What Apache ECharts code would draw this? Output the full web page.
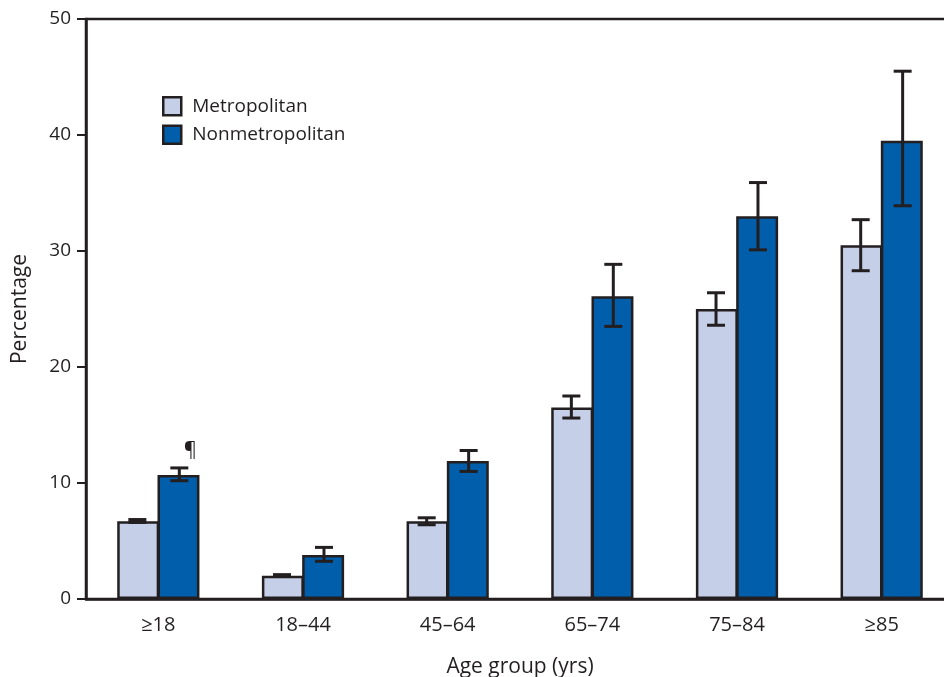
<!DOCTYPE html>
<html><head><meta charset="utf-8">
<script src="https://cdn.jsdelivr.net/npm/echarts@6/dist/echarts.min.js"></script>
<style>html,body{margin:0;padding:0;background:#fff}#c{width:944px;height:677px}</style>
</head><body><div id="c"></div>
<script>
const categories = ['≥18', '18–44', '45–64', '65–74', '75–84', '≥85'];
const metroValues = [6.7, 2.0, 6.7, 16.5, 25.0, 30.5];
const metroLow = [6.6, 1.95, 6.4, 15.6, 23.6, 28.3];
const metroHigh = [6.85, 2.1, 7.0, 17.5, 26.4, 32.7];
const nonmetroValues = [10.7, 3.8, 11.9, 26.1, 33.0, 39.5];
const nonmetroLow = [10.2, 3.25, 11.0, 23.5, 30.1, 33.9];
const nonmetroHigh = [11.3, 4.45, 12.8, 28.85, 35.9, 45.5];
const yTicks = [0, 10, 20, 30, 40, 50];
const footnoteMark = '¶';

const ink = '#231f20';
const font = 'Open Sans';
const barFrac = 0.29;

function errData(low, high) { return categories.map((c, i) => [i, low[i], high[i]]); }

function makeErr(side, withMark) {
  return function (params, api) {
    const i = api.value(0);
    const lo = api.coord([i, api.value(1)]);
    const hi = api.coord([i, api.value(2)]);
    const band = api.size([1, 0])[0];
    const x = lo[0] + side * band * barFrac / 2;
    const half = 9;
    const st = { stroke: ink, lineWidth: 3 };
    const children = [
      { type: 'line', shape: { x1: x, y1: lo[1], x2: x, y2: hi[1] }, style: st },
      { type: 'line', shape: { x1: x - half, y1: lo[1], x2: x + half, y2: lo[1] }, style: st },
      { type: 'line', shape: { x1: x - half, y1: hi[1], x2: x + half, y2: hi[1] }, style: st }
    ];
    if (withMark && i === 0) {
      children.push({ type: 'text', style: { text: footnoteMark, x: x + 11, y: hi[1] - 8, fill: ink,
        font: '20px "' + font + '"', align: 'center', verticalAlign: 'bottom' } });
    }
    return { type: 'group', children };
  };
}

const chart = echarts.init(document.getElementById('c'), null, { renderer: 'canvas' });
chart.setOption({
  animation: false,
  textStyle: { fontFamily: font, color: ink },
  grid: { left: 86, top: 19, bottom: 78, right: -10, outerBoundsMode: 'none', containLabel: false,
    show: true, borderColor: ink, borderWidth: 2.5 },
  legend: {
    orient: 'vertical', left: 157, top: 91, itemWidth: 18, itemHeight: 18, itemGap: 8,
    icon: 'rect',
    data: ['Metropolitan', 'Nonmetropolitan'],
    textStyle: { fontFamily: font, fontSize: 19, color: ink, padding: [0, 0, 0, 6] },
    itemStyle: { borderColor: ink, borderWidth: 2.5 }
  },
  xAxis: {
    type: 'category', data: categories,
    name: 'Age group (yrs)', nameLocation: 'middle', nameGap: 58,
    nameTextStyle: { fontFamily: font, fontSize: 21, color: ink },
    axisLine: { lineStyle: { color: ink, width: 2.5 } },
    axisTick: { alignWithLabel: true, length: 11, lineStyle: { color: ink, width: 2 } },
    axisLabel: { fontFamily: font, fontSize: 20, color: ink, margin: 16 }
  },
  yAxis: {
    type: 'value', min: 0, max: 50, interval: 10,
    name: 'Percentage', nameLocation: 'middle', nameGap: 55, nameRotate: 90,
    nameTextStyle: { fontFamily: font, fontSize: 21, color: ink },
    axisLine: { show: true, lineStyle: { color: ink, width: 2.5 } },
    axisTick: { show: true, length: 9, lineStyle: { color: ink, width: 2 } },
    axisLabel: { fontFamily: font, fontSize: 19, color: ink, margin: 15,
      formatter: v => yTicks.includes(v) ? String(v) : '' },
    splitLine: { show: false }
  },
  series: [
    { name: 'Metropolitan', type: 'bar', data: metroValues, barWidth: (barFrac * 100) + '%', barGap: '-4%',
      itemStyle: { color: '#c6cfe8', borderColor: ink, borderWidth: 2.5 } },
    { name: 'Nonmetropolitan', type: 'bar', data: nonmetroValues, barWidth: (barFrac * 100) + '%', barGap: '-4%',
      itemStyle: { color: '#005eaa', borderColor: ink, borderWidth: 2.5 } },
    { type: 'custom', renderItem: makeErr(-1, false), data: errData(metroLow, metroHigh), z: 10,
      encode: { x: 0, y: [1, 2] } },
    { type: 'custom', renderItem: makeErr(1, true), data: errData(nonmetroLow, nonmetroHigh), z: 10,
      encode: { x: 0, y: [1, 2] } }
  ]
});
</script></body></html>
